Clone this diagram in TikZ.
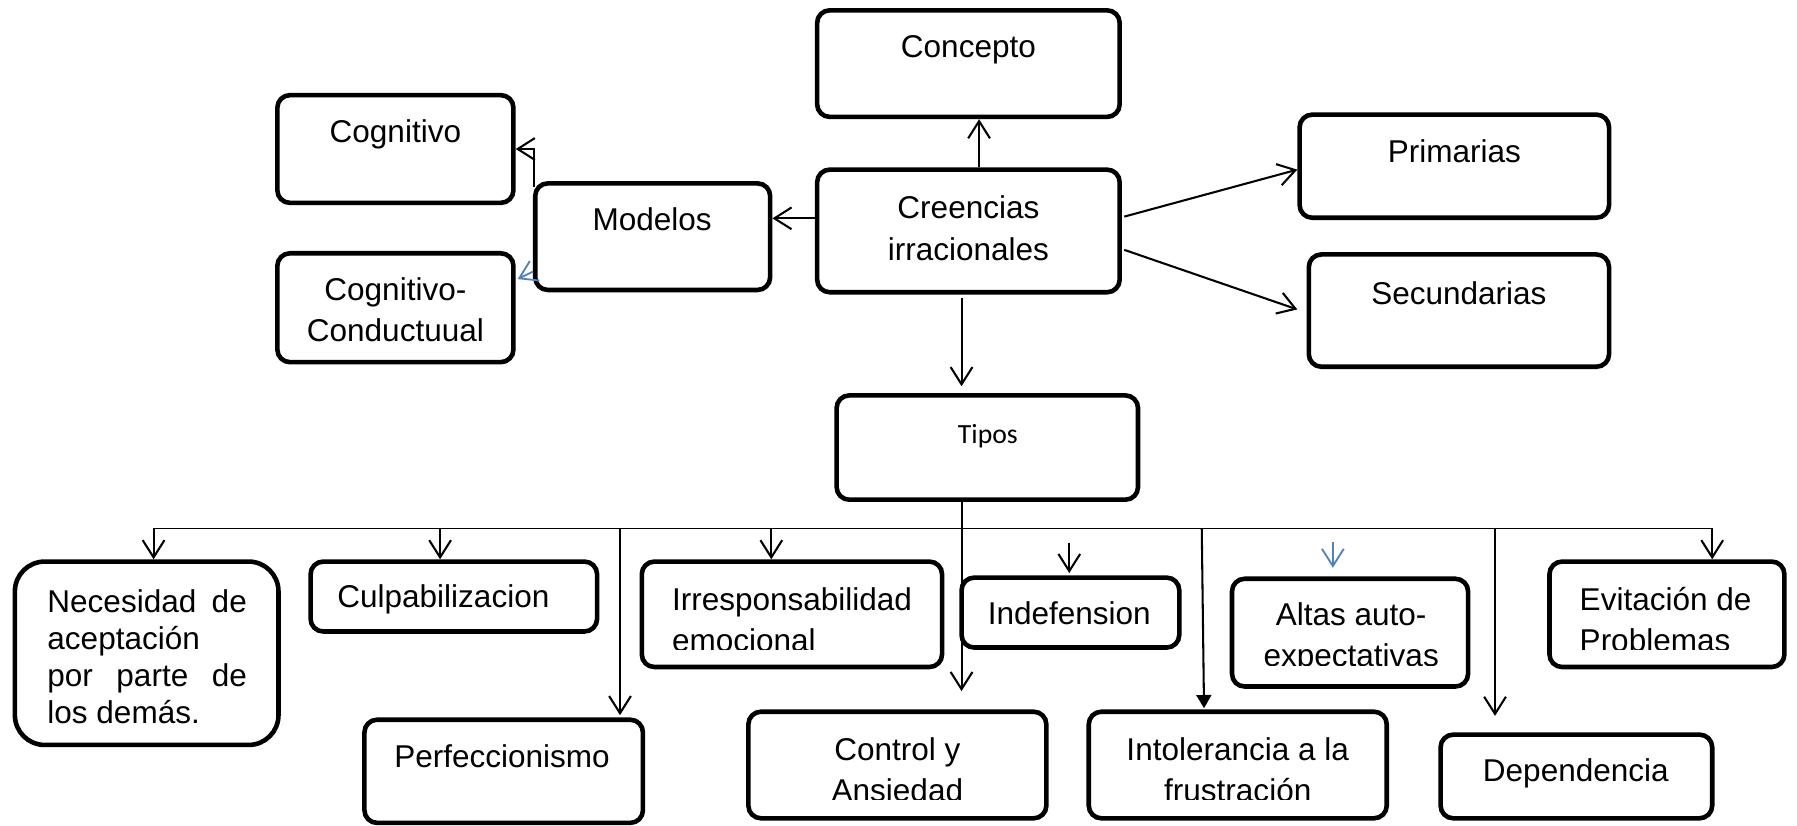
\documentclass[tikz,border=0pt]{standalone}
\usepackage{fontspec}
\setmainfont{Liberation Sans}
\newfontfamily\tiposfont{Carlito}
\usetikzlibrary{arrows.meta,fit}
\definecolor{linkblue}{RGB}{79,129,189}
% invisible strut fixing the height of a first text line
\newcommand\firststrut{\rule{0pt}{12pt}}
\begin{document}
\begin{tikzpicture}[x=0.5pt,y=-0.5pt,
  box/.style={draw, line width=2pt, rounded corners=5.5pt, inner sep=0pt},
  txt/.style={inner sep=0pt, font=\fontsize{13.75}{18}\selectfont},
  conn/.style={line width=0.9pt, -{Straight Barb[length=7.5pt,width=9.5pt]}},
  blueconn/.style={conn, draw=linkblue, line width=0.8pt},
  filledconn/.style={line width=0.9pt, -{Triangle[length=5.8pt,width=6.5pt]}},
  busline/.style={line width=0.6pt},
]
\useasboundingbox (0,0) rectangle (1568,720);

% ---- boxes ----
\node[box, fit={(713,9)(977,102)}]    (concepto)   {};
\node[box, fit={(242,83)(448,177)}]   (cognitivo)  {};
\node[box, fit={(467,160)(672,253)}]  (modelos)    {};
\node[box, fit={(713,148)(977,255)}]  (creencias)  {};
\node[box, fit={(242,221)(448,316)}]  (cogcond)    {};
\node[box, fit={(1134,100)(1404,190)}] (primarias) {};
\node[box, fit={(1142,222)(1404,320)}] (secundarias) {};
\node[box, fit={(730,345)(993,436)}]  (tipos)      {};

\node[box, rounded corners=13pt, fit={(13,490)(243,650)}] (necesidad) {};
\node[box, fit={(271,490)(521,551)}]  (culpa)   {};
\node[box, fit={(560,490)(822,582)}]  (irresp)  {};
\node[box, fit={(839,504)(1029,565)}] (indef)   {};
\node[box, fit={(1075,505)(1281,599)}] (altas)  {};
\node[box, fit={(1352,490)(1557,582)}] (evit)   {};
\node[box, fit={(318,628)(561,718)}]  (perf)    {};
\node[box, fit={(653,621)(913,714)}]  (control) {};
\node[box, fit={(950,621)(1210,714)}] (intol)   {};
\node[box, fit={(1257,641)(1494,714)}] (depend) {};

% ---- texts ----
\node[txt, anchor=base] (t-concepto) at (845,50) {Concepto};
\node[txt, anchor=base] (t-cognitivo) at (345,124) {Cognitivo};
\node[txt, anchor=base] (t-modelos) at (569,201) {Modelos};
\node[txt, anchor=north, align=center] (t-creencias) at (845,166.5)
  {\firststrut Creencias\\irracionales};
\node[txt, anchor=north, align=center] (t-cogcond) at (345,238)
  {\firststrut Cognitivo-\\Conductuual};
\node[txt, anchor=base] (t-primarias) at (1269,142) {Primarias};
\node[txt, anchor=base] (t-secundarias) at (1273,266) {Secundarias};
\node[inner sep=0pt, font=\tiposfont\fontsize{12.1}{14}\selectfont, anchor=base]
  (t-tipos) at (862,387) {Tipos};

\node[txt, font=\fontsize{13.75}{16.15}\selectfont, anchor=north west, align=left]
  (t-necesidad) at (41,510)
  {\firststrut\makebox[87pt][s]{Necesidad de}\\aceptación\\\makebox[87pt][s]{por parte de}\\los demás.};
\node[txt, anchor=base west] (t-culpa) at (294,530) {Culpabilizacion};
\begin{scope}
  \clip (560,490) rectangle (822,567);
  \node[txt, anchor=north west, align=left] (t-irresp) at (586,508)
    {\firststrut Irresponsabilidad\\emocional};
\end{scope}
\node[txt, anchor=base] (t-indef) at (933,545) {Indefension};
\begin{scope}
  \clip (1075,505) rectangle (1281,581);
  \node[txt, anchor=north, align=center] (t-altas) at (1179,521)
    {\firststrut Altas auto-\\expectativas};
\end{scope}
\begin{scope}
  \clip (1352,490) rectangle (1557,567);
  \node[txt, anchor=north west, align=left] (t-evit) at (1378,508)
    {\firststrut Evitación de\\Problemas};
\end{scope}
\node[txt, anchor=base] (t-perf) at (438,670) {Perfeccionismo};
\begin{scope}
  \clip (653,621) rectangle (913,698);
  \node[txt, anchor=north, align=center] (t-control) at (783,639)
    {\firststrut Control y\\Ansiedad};
\end{scope}
\begin{scope}
  \clip (950,621) rectangle (1210,698);
  \node[txt, anchor=north, align=center] (t-intol) at (1080,639)
    {\firststrut Intolerancia a la\\frustración};
\end{scope}
\node[txt, anchor=base] (t-depend) at (1375,682) {Dependencia};

% ---- upper connectors ----
\draw[conn] ([xshift=4.65pt]creencias.north) -- ([xshift=4.65pt]creencias.north |- concepto.south);
\draw[conn] ([yshift=5.5pt]creencias.west) -- ([yshift=5.5pt]creencias.west -| modelos.east);
\draw[conn, shorten <=1.3pt, shorten >=3pt] ([xshift=-3pt]creencias.south) -- ([xshift=-3pt]creencias.south |- tipos.north);
\draw[conn] ([xshift=1pt,yshift=6.25pt]creencias.east) -- ([yshift=-1.5pt]primarias.west);
\draw[conn] ([xshift=1pt,yshift=-8.25pt]creencias.east) -- ([xshift=-4pt,yshift=0.5pt]secundarias.west);
\draw[conn] ([xshift=0.6pt,yshift=-2.5pt]modelos.north west) |- (cognitivo.east);
\draw[blueconn] ([yshift=-15.25pt]modelos.west) -- ([xshift=0.85pt,yshift=12.5pt]cogcond.east);

% ---- distribution bus below Tipos ----
\coordinate (bus-necesidad) at (134,461);
\coordinate (bus-culpa)     at (384,461);
\coordinate (bus-perf)      at (541,461);
\coordinate (bus-irresp)    at (673,461);
\coordinate (bus-intol)     at (1048.6,461);
\coordinate (bus-depend)    at (1304.5,461);
\coordinate (bus-evit)      at (1494,461);
\coordinate (indef-top)     at (933,474);
\coordinate (altas-top)     at (1163,473);

\draw[busline] (bus-necesidad) -- (bus-evit);
\draw[conn, shorten >=8pt] ([xshift=-11.25pt]tipos.south) -- ([xshift=-11.25pt]tipos.south |- control.north);
\draw[conn] (bus-necesidad) -- (bus-necesidad |- necesidad.north);
\draw[conn] (bus-culpa) -- (bus-culpa |- culpa.north);
\draw[conn, shorten >=1pt] (bus-perf) -- (bus-perf |- perf.north);
\draw[conn] (bus-irresp) -- (bus-irresp |- irresp.north);
\draw[conn, shorten >=1pt] (indef-top) -- (indef-top |- indef.north);
\draw[filledconn, shorten >=0.5pt] (bus-intol) -- ([xshift=-14.7pt]intol.north);
\draw[blueconn, shorten >=3.8pt] (altas-top) -- (altas-top |- altas.north);
\draw[conn, shorten >=7.2pt] (bus-depend) -- (bus-depend |- depend.north);
\draw[conn] (bus-evit) -- (bus-evit |- evit.north);
\end{tikzpicture}
\end{document}
